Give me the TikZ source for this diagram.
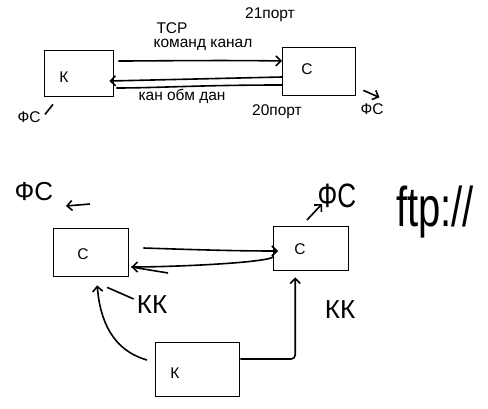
\documentclass[tikz,border=0pt]{standalone}
\usepackage{fontspec}
\setmainfont{Liberation Sans}
\usetikzlibrary{arrows.meta}

\begin{document}
\begin{tikzpicture}[x=1pt,y=-1pt,
  box/.style={draw, rectangle, line width=1.4pt, anchor=north west, inner sep=0pt},
  lbl/.style={font=\fontsize{15.5}{17}\selectfont, inner sep=0pt},
  hand/.style={font=\fontsize{26}{28}\selectfont, inner sep=0pt},
  arrow/.style={line width=1.6pt, ->, >={Straight Barb[length=5pt,width=10pt]}},
  wire/.style={line width=1.6pt}
]
  \useasboundingbox (0,0) rectangle (488,409);

  % upper sketch
  \node[box, minimum width=69pt, minimum height=46pt] (k1) at (44,50) {};
  \node[box, minimum width=73pt, minimum height=48pt] (c1) at (282,47) {};
  \node[lbl] (k1txt) at (64,77) {К};
  \node[lbl] (c1txt) at (307,69) {С};

  \draw[arrow] ([xshift=4pt,yshift=-11pt]k1.north east)
    .. controls +(30pt,0pt) and +(-60pt,1pt) .. ([yshift=-14pt]c1.north west);
  \draw[arrow] ([yshift=-30pt]c1.north west) -- ([xshift=-5pt,yshift=-31pt]k1.north east);
  \draw[wire] ([yshift=-38pt]c1.north west)
    .. controls +(-80pt,0pt) and +(40pt,0pt) .. ([xshift=2pt,yshift=-38pt]k1.north east);

  \node[lbl] (tcp)  at (172,28)  {TCP};
  \node[lbl] (cmd)  at (203,45)  {команд канал};
  \node[lbl] (p21)  at (270,15)  {21порт};
  \node[lbl] (data) at (182,96)  {кан обм дан};
  \node[lbl] (p20)  at (277,112) {20порт};
  \node[lbl] (fs1)  at (29,117)  {ФС};
  \node[lbl] (fs2)  at (372,109) {ФС};

  \draw[wire] ([xshift=9pt,yshift=-7pt]k1.south west) -- ([xshift=1pt,yshift=-17pt]k1.south west);
  \draw[arrow] ([xshift=7pt,yshift=6pt]c1.south east) -- ([xshift=23pt,yshift=-1pt]c1.south east);

  % lower sketch
  \node[box, minimum width=75pt, minimum height=48pt] (c2) at (53,228) {};
  \node[box, minimum width=75pt, minimum height=44pt] (c3) at (273,226) {};
  \node[box, minimum width=84pt, minimum height=54pt] (k2) at (155,342) {};
  \node[lbl] (c2txt) at (83,254)  {С};
  \node[lbl] (c3txt) at (300,249) {С};
  \node[lbl] (k2txt) at (175,373) {К};

  \draw[arrow] ([xshift=14pt,yshift=-20pt]c2.north east)
    .. controls +(60pt,-2pt) and +(-40pt,0pt) .. ([xshift=5pt,yshift=-25pt]c3.north west);
  \draw[arrow] ([yshift=-31pt]c3.north west)
    .. controls +(-8pt,-6pt) and +(40pt,0pt) .. ([xshift=2pt,yshift=-39pt]c2.north east);
  \coordinate (hook) at (168,273);
  \draw[wire] ([xshift=2pt,yshift=-39pt]c2.north east) -- (hook);

  \draw[arrow] ([xshift=-8pt,yshift=-18pt]k2.north west)
    .. controls (112,350) and (100,320) .. ([xshift=6pt,yshift=-8pt]c2.south);
  \draw[arrow, rounded corners=4pt] ([yshift=-17pt]k2.north east)
    -| ([xshift=-16pt,yshift=-6pt]c3.south);

  \node[hand] (kk1) at (152,305) {КК};
  \node[hand] (kk2) at (340,310) {КК};
  \draw[wire] ([xshift=-3pt,yshift=6pt]kk1.west) -- ([xshift=16pt,yshift=-10pt]c2.south);

  \node[hand] (fs3) at (34,192) {ФС};
  \node[hand] (fs4) at (337,196) {\scalebox{1}[1.3]{ФС}};
  \node[hand, font=\fontsize{40}{44}\selectfont] (ftp) at (435,212) {\scalebox{1}[1.4]{ftp://}};

  \draw[arrow] ([xshift=37pt,yshift=24pt]c2.north west) -- ([xshift=13pt,yshift=22pt]c2.north west);
  \draw[arrow] ([xshift=34pt,yshift=6pt]c3.north west) -- ([xshift=49pt,yshift=22pt]c3.north west);
\end{tikzpicture}
\end{document}
